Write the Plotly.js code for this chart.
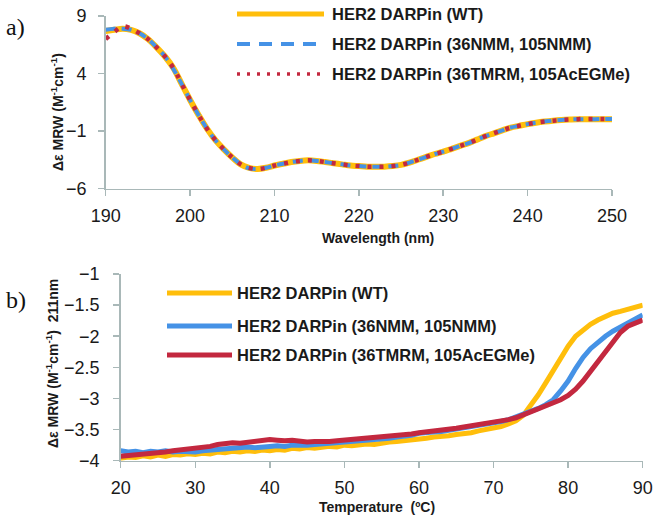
<!DOCTYPE html>
<html>
<head>
<meta charset="utf-8">
<script src="https://cdn.plot.ly/plotly-3.0.1.min.js"></script>
<style>
  html, body { margin: 0; padding: 0; background: #fff; }
  #chart { width: 657px; height: 522px; }
</style>
</head>
<body>
<div id="chart"></div>
<script>
// ---- panel a) CD spectra ----
const wavelength = [190,191,192,193,194,195,196,197,198,199,200,201,202,203,204,205,206,207,208,209,
  210,211,212,213,214,215,216,217,218,219,220,221,222,223,224,225,226,227,228,229,
  230,231,232,233,234,235,236,237,238,239,240,241,242,243,244,245,246,247,248,249,250];

const cdWT = [7.7,7.8,7.9,7.8,7.5,7.0,6.3,5.5,4.5,3.1,1.7,0.4,-0.8,-1.8,-2.6,-3.3,-3.9,-4.2,-4.3,-4.2,
  -4.0,-3.85,-3.7,-3.6,-3.55,-3.6,-3.7,-3.8,-3.9,-4.0,-4.05,-4.1,-4.1,-4.1,-4.05,-3.95,-3.75,-3.5,-3.25,-3.0,
  -2.8,-2.55,-2.3,-2.05,-1.75,-1.45,-1.2,-0.95,-0.7,-0.55,-0.4,-0.28,-0.18,-0.1,-0.04,0.0,0.03,0.03,0.03,0.03,0.03];

const cdNMM = [7.8,7.9,7.9,7.8,7.5,7.0,6.3,5.5,4.4,3.1,1.7,0.4,-0.8,-1.8,-2.6,-3.3,-3.9,-4.25,-4.3,-4.2,
  -4.0,-3.85,-3.7,-3.6,-3.55,-3.6,-3.7,-3.8,-3.9,-4.0,-4.05,-4.1,-4.1,-4.1,-4.05,-3.95,-3.75,-3.5,-3.25,-3.0,
  -2.8,-2.55,-2.3,-2.05,-1.75,-1.45,-1.2,-0.95,-0.7,-0.55,-0.4,-0.28,-0.18,-0.1,-0.04,0.0,0.03,0.03,0.03,0.05,0.05];

const cdTMRM = [7.0,7.6,8.1,7.9,7.5,7.0,6.3,5.5,4.5,3.1,1.7,0.4,-0.8,-1.8,-2.6,-3.3,-3.9,-4.2,-4.3,-4.2,
  -4.0,-3.85,-3.7,-3.6,-3.55,-3.6,-3.7,-3.8,-3.9,-4.0,-4.05,-4.1,-4.1,-4.1,-4.05,-3.95,-3.75,-3.5,-3.25,-3.0,
  -2.8,-2.55,-2.3,-2.05,-1.75,-1.45,-1.2,-0.95,-0.7,-0.55,-0.4,-0.28,-0.18,-0.1,-0.04,0.0,0.03,0.05,0.05,0.05,0.05];

// ---- panel b) thermal melts at 211 nm ----
const temperature = [20,21,22,23,24,25,26,27,28,29,30,31,32,33,34,35,36,37,38,39,
  40,41,42,43,44,45,46,47,48,49,50,51,52,53,54,55,56,57,58,59,
  60,61,62,63,64,65,66,67,68,69,70,71,72,73,74,75,76,77,78,79,
  80,81,82,83,84,85,86,87,88,89,90];

const meltWT = [-3.96,-3.94,-3.95,-3.92,-3.94,-3.91,-3.93,-3.90,-3.91,-3.89,-3.90,-3.88,-3.89,-3.86,-3.87,-3.85,-3.86,-3.84,-3.85,-3.83,
  -3.84,-3.82,-3.83,-3.80,-3.81,-3.79,-3.80,-3.78,-3.77,-3.78,-3.75,-3.76,-3.74,-3.73,-3.74,-3.71,-3.70,-3.69,-3.68,-3.66,
  -3.65,-3.64,-3.62,-3.62,-3.60,-3.58,-3.57,-3.55,-3.52,-3.50,-3.48,-3.45,-3.41,-3.36,-3.27,-3.12,-2.94,-2.75,-2.55,-2.36,
  -2.16,-2.00,-1.90,-1.81,-1.74,-1.68,-1.63,-1.60,-1.56,-1.53,-1.50];

const meltNMM = [-3.84,-3.86,-3.85,-3.87,-3.85,-3.86,-3.84,-3.86,-3.85,-3.86,-3.86,-3.84,-3.83,-3.81,-3.80,-3.79,-3.80,-3.78,-3.79,-3.77,
  -3.77,-3.76,-3.77,-3.75,-3.76,-3.75,-3.74,-3.73,-3.73,-3.71,-3.70,-3.70,-3.68,-3.68,-3.66,-3.65,-3.64,-3.62,-3.61,-3.59,
  -3.56,-3.56,-3.54,-3.53,-3.51,-3.50,-3.48,-3.46,-3.45,-3.42,-3.40,-3.37,-3.34,-3.30,-3.25,-3.21,-3.16,-3.10,-3.02,-2.88,
  -2.72,-2.52,-2.34,-2.20,-2.09,-2.00,-1.92,-1.85,-1.78,-1.72,-1.66];

const meltTMRM = [-3.93,-3.92,-3.90,-3.91,-3.88,-3.87,-3.86,-3.84,-3.83,-3.80,-3.80,-3.78,-3.77,-3.74,-3.72,-3.71,-3.72,-3.70,-3.69,-3.68,
  -3.66,-3.67,-3.68,-3.67,-3.69,-3.70,-3.69,-3.70,-3.69,-3.68,-3.67,-3.66,-3.65,-3.65,-3.63,-3.62,-3.61,-3.60,-3.58,-3.57,
  -3.55,-3.54,-3.53,-3.51,-3.50,-3.48,-3.46,-3.44,-3.43,-3.41,-3.39,-3.37,-3.34,-3.31,-3.26,-3.22,-3.18,-3.13,-3.08,-3.02,
  -2.95,-2.85,-2.72,-2.56,-2.40,-2.24,-2.08,-1.94,-1.84,-1.78,-1.74];

const seriesNames = ['HER2 DARPin (WT)', 'HER2 DARPin (36NMM, 105NMM)', 'HER2 DARPin (36TMRM, 105AcEGMe)'];
const colors = ['#FFBE0B', '#4592E6', '#C3283F'];
const wlTicks = [190, 200, 210, 220, 230, 240, 250];
const cdTicks = [-6, -1, 4, 9];
const tTicks = [20, 30, 40, 50, 60, 70, 80, 90];
const meltTicks = [-4, -3.5, -3, -2.5, -2, -1.5, -1];

const W = 657, H = 522;
const px = x => x / W;
const py = y => 1 - y / H;

const axisLine = '#A9B8B8';
const sans = 'Liberation Sans, Arial';
const tickFont = { family: sans, size: 18, color: '#1a1a1a' };
const titleFont = { family: sans, size: 14, color: '#1a1a1a' };
const legendFont = { family: sans, size: 16.5, color: '#1a1a1a' };

const traces = [
  { x: wavelength, y: cdWT, type: 'scatter', mode: 'lines', xaxis: 'x', yaxis: 'y',
    line: { color: colors[0], width: 6, shape: 'spline' }, name: seriesNames[0] },
  { x: wavelength, y: cdNMM, type: 'scatter', mode: 'lines', xaxis: 'x', yaxis: 'y',
    line: { color: colors[1], width: 4, dash: '10px,6px', shape: 'spline' }, name: seriesNames[1] },
  { x: wavelength, y: cdTMRM, type: 'scatter', mode: 'lines', xaxis: 'x', yaxis: 'y',
    line: { color: colors[2], width: 4.5, dash: '4px,8px', shape: 'spline' }, name: seriesNames[2] },
  { x: temperature, y: meltWT, type: 'scatter', mode: 'lines', xaxis: 'x2', yaxis: 'y2',
    line: { color: colors[0], width: 5 }, name: seriesNames[0] },
  { x: temperature, y: meltNMM, type: 'scatter', mode: 'lines', xaxis: 'x2', yaxis: 'y2',
    line: { color: colors[1], width: 5 }, name: seriesNames[1] },
  { x: temperature, y: meltTMRM, type: 'scatter', mode: 'lines', xaxis: 'x2', yaxis: 'y2',
    line: { color: colors[2], width: 5 }, name: seriesNames[2] }
];

const axisBase = {
  showgrid: false, zeroline: false, showline: true, linecolor: axisLine, linewidth: 1.5,
  ticks: 'outside', ticklen: 6, tickcolor: axisLine, tickwidth: 1.5,
  tickfont: tickFont, fixedrange: true
};

// legend samples (drawn as shapes) and labels
const topLegendY = [14, 44, 74];
const botLegendY = [293, 326, 355];
const topDash = ['solid', '13px,9px', '3px,7px'];
const topWidth = [5, 4, 3.5];
const shapes = [], annotations = [];
seriesNames.forEach((name, i) => {
  shapes.push({ type: 'line', xref: 'paper', yref: 'paper',
    x0: px(237), x1: px(324), y0: py(topLegendY[i]), y1: py(topLegendY[i]),
    line: { color: colors[i], width: topWidth[i], dash: topDash[i] } });
  annotations.push({ xref: 'paper', yref: 'paper', x: px(330), y: py(topLegendY[i]),
    xanchor: 'left', yanchor: 'middle', showarrow: false, text: '<b>' + name + '</b>', font: legendFont });
  shapes.push({ type: 'line', xref: 'paper', yref: 'paper',
    x0: px(167), x1: px(232), y0: py(botLegendY[i]), y1: py(botLegendY[i]),
    line: { color: colors[i], width: 5 } });
  annotations.push({ xref: 'paper', yref: 'paper', x: px(235), y: py(botLegendY[i]),
    xanchor: 'left', yanchor: 'middle', showarrow: false, text: '<b>' + name + '</b>', font: legendFont });
});

// axis titles
const titles = [
  { x: 378, y: 238, angle: 0, text: '<b>Wavelength (nm)</b>' },
  { x: 57, y: 112, angle: -90, text: '<b>Δε MRW (M<sup>-1</sup>cm<sup>-1</sup>)</b>' },
  { x: 377, y: 507, angle: 0, text: '<b>Temperature  (ºC)</b>' },
  { x: 52, y: 364, angle: -90, text: '<b>Δε MRW (M<sup>-1</sup>cm<sup>-1</sup>)  211nm</b>' }
];
titles.forEach(t => annotations.push({ xref: 'paper', yref: 'paper', x: px(t.x), y: py(t.y),
  xanchor: 'center', yanchor: 'middle', textangle: t.angle, showarrow: false, text: t.text, font: titleFont }));

// panel labels
annotations.push({ xref: 'paper', yref: 'paper', x: px(4), y: py(27), xanchor: 'left', yanchor: 'middle',
  showarrow: false, text: 'a)', font: { family: 'Liberation Serif, Times New Roman', size: 24, color: '#111' } });
annotations.push({ xref: 'paper', yref: 'paper', x: px(4), y: py(300), xanchor: 'left', yanchor: 'middle',
  showarrow: false, text: 'b)', font: { family: 'Liberation Serif, Times New Roman', size: 24, color: '#111' } });

const layout = {
  width: W, height: H,
  margin: { l: 0, r: 0, t: 0, b: 0 },
  paper_bgcolor: '#fff', plot_bgcolor: '#fff',
  showlegend: false,
  xaxis: Object.assign({}, axisBase, {
    domain: [px(105.7), px(612)], range: [190, 250], tickvals: wlTicks, anchor: 'y', ticklabelstandoff: 4
  }),
  yaxis: Object.assign({}, axisBase, {
    domain: [py(188.5), py(16)], range: [-6, 9], tickvals: cdTicks, anchor: 'x', ticklabelstandoff: 8
  }),
  xaxis2: Object.assign({}, axisBase, {
    domain: [px(120.7), px(642.7)], range: [20, 90], tickvals: tTicks, anchor: 'y2', ticklabelstandoff: 4
  }),
  yaxis2: Object.assign({}, axisBase, {
    domain: [py(460.7), py(274)], range: [-4, -1], tickvals: meltTicks, anchor: 'x2', ticklabelstandoff: 10
  }),
  shapes: shapes,
  annotations: annotations
};

Plotly.newPlot('chart', traces, layout, { displayModeBar: false, staticPlot: true });
</script>
</body>
</html>
